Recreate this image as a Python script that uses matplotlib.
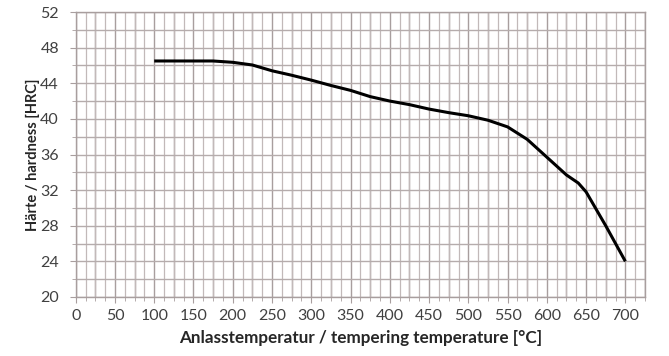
import matplotlib
matplotlib.use("Agg")
import matplotlib.pyplot as plt
import numpy as np

temperature = [100, 125, 150, 175, 200, 225, 250, 275, 300, 325, 350, 375, 400,
               425, 450, 475, 500, 525, 550, 575, 600, 625, 640, 650, 675, 700]
hardness = [46.5, 46.5, 46.5, 46.5, 46.35, 46.05, 45.4, 44.9, 44.35, 43.75, 43.2,
            42.5, 42.0, 41.6, 41.1, 40.7, 40.35, 39.85, 39.1, 37.7, 35.7, 33.7,
            32.8, 31.8, 28.0, 24.0]
x_ticks = list(range(0, 701, 50))
y_ticks = list(range(20, 53, 4))
x_label = "Anlasstemperatur / tempering temperature [°C]"
y_label = "Härte / hardness [HRC]"

plt.rcParams['font.family'] = ['Lato', 'DejaVu Sans']

fig = plt.figure(figsize=(6.69, 3.56), dpi=100)
ax = fig.add_axes([75.7/669, 1-297/356, (645-75.7)/669, (297-12)/356])

ax.set_xlim(0, 725)
ax.set_ylim(20, 52)

ax.set_xticks(x_ticks)
ax.set_xticks(np.arange(0, 726, 12.5), minor=True)
ax.set_yticks(y_ticks)
ax.set_yticks(np.arange(20, 53, 2), minor=True)

ax.grid(True, which='major', axis='x', color='#a89e9e', linewidth=1.0)
ax.grid(True, which='minor', axis='x', color='#c2b9b9', linewidth=0.9)
for xv in np.arange(25, 726, 50):
    ax.axvline(xv, color='#a89e9e', linewidth=1.0, zorder=0.5)
ax.grid(True, which='both', axis='y', color='#b5acac', linewidth=1.0)
ax.set_axisbelow(True)

ax.plot(temperature, hardness, color='black', linewidth=2.2, solid_capstyle='butt', zorder=3)

for s in ax.spines.values():
    s.set_color('#a89e9e')
    s.set_linewidth(1.0)

ax.tick_params(which='both', direction='out', color='#a89e9e', labelcolor='#404040',
               labelsize=11.5)
ax.tick_params(which='major', length=4)
ax.tick_params(which='minor', length=3)
ax.tick_params(axis='x', pad=5)
ax.tick_params(axis='y', pad=8)

ax.set_xlabel(x_label, fontsize=12.3, fontweight='bold', color='#262626', labelpad=5)
ax.set_ylabel(y_label, fontsize=10.5, fontweight='bold', color='#262626', labelpad=0.5)

fig.savefig("out.png", dpi=100)
